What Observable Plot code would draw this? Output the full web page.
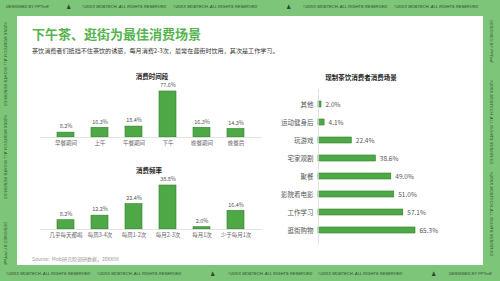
<!DOCTYPE html>
<html><head><meta charset="utf-8">
<script src="https://cdn.jsdelivr.net/npm/d3@7"></script>
<script src="https://cdn.jsdelivr.net/npm/@observablehq/plot@0.6"></script>
<style>
html,body{margin:0;padding:0;}
body{width:500px;height:281px;background:#7dc579;position:relative;overflow:hidden;font-family:"Noto Sans CJK SC","Noto Sans",sans-serif;}
.abs{position:absolute;white-space:nowrap;}
.panel{position:absolute;left:17px;top:16px;width:466px;height:249px;background:#fff;}
.band{position:absolute;font-family:"Liberation Sans",sans-serif;font-style:italic;font-size:4.1px;color:#2f4a2c;white-space:nowrap;}
.ctitle{position:absolute;font-weight:bold;font-size:6.5px;color:#222;transform:translateX(-50%);white-space:nowrap;}
</style></head>
<body>
<div class="panel"></div>
<div class="abs" style="left:32px;top:24px;font-size:13px;font-weight:bold;color:#55b34e;">下午茶、逛街为最佳消费场景</div>
<div class="abs" style="left:32px;top:46px;font-size:6.1px;color:#333;">茶饮消费者们抵挡不住茶饮的诱惑，每月消费2-3次，最常在逛街时饮用，其次是工作学习。</div>
<div class="abs" style="left:32px;top:255px;font-size:5px;color:#999;">Source:&nbsp;&nbsp;Mob研究院调研数据，20XX08</div>

<div class="band" style="left:6px;top:4px;">DESIGNED BY PPTer8</div>
<div class="band" style="left:66px;top:3px;font-style:normal;font-size:6px;">♟</div>
<div class="band" style="left:82px;top:4px;">©20XX MOBTECH. ALL RIGHTS RESERVED</div>
<div class="band" style="left:173px;top:4px;">©20XX MOBTECH. ALL RIGHTS RESERVED</div>
<div class="band" style="left:286px;top:3px;font-style:normal;font-size:6px;">♟</div>
<div class="band" style="left:303px;top:4px;">©20XX MOBTECH. ALL RIGHTS RESERVED</div>
<div class="band" style="left:394px;top:4px;">©20XX MOBTECH. ALL RIGHTS RESERVED</div>

<div class="band" style="left:6px;top:271px;">©20XX MOBTECH. ALL RIGHTS RESERVED</div>
<div class="band" style="left:97px;top:271px;">©20XX MOBTECH. ALL RIGHTS RESERVED</div>
<div class="band" style="left:210px;top:270px;font-style:normal;font-size:6px;">♟</div>
<div class="band" style="left:228px;top:271px;">©20XX MOBTECH. ALL RIGHTS RESERVED</div>
<div class="band" style="left:318px;top:271px;">©20XX MOBTECH. ALL RIGHTS RESERVED</div>
<div class="band" style="left:431px;top:270px;font-style:normal;font-size:6px;">♟</div>
<div class="band" style="left:449px;top:271px;">DESIGNED BY PPTer8</div>

<div class="band" style="left:8px;top:22px;transform-origin:0 0;transform:rotate(90deg);">©20XX MOBTECH. ALL RIGHTS RESERVED</div>
<div class="band" style="left:8px;top:115px;transform-origin:0 0;transform:rotate(90deg);">©20XX MOBTECH. ALL RIGHTS RESERVED</div>
<div class="band" style="left:8px;top:222px;transform-origin:0 0;transform:rotate(90deg);">DESIGNED BY PPTer8</div>
<div class="band" style="left:494px;top:20px;transform-origin:0 0;transform:rotate(90deg);">DESIGNED BY PPTer8</div>
<div class="band" style="left:494px;top:80px;transform-origin:0 0;transform:rotate(90deg);">©20XX MOBTECH. ALL RIGHTS RESERVED</div>
<div class="band" style="left:494px;top:172px;transform-origin:0 0;transform:rotate(90deg);">©20XX MOBTECH. ALL RIGHTS RESERVED</div>

<div id="c1" class="abs" style="left:20px;top:78px;"></div>
<div id="c2" class="abs" style="left:20px;top:172px;"></div>
<div id="c3" class="abs" style="left:262px;top:80px;"></div>
<div class="ctitle" style="left:152px;top:71px;">消费时间段</div>
<div class="ctitle" style="left:149px;top:165px;">消费频率</div>
<div class="ctitle" style="left:361px;top:72px;">现制茶饮消费者消费场景</div>

<script>
const timeCats = ["早餐期间","上午","午餐期间","下午","晚餐期间","晚餐后"];
const timeVals = [8.2,16.3,18.4,77.6,16.3,14.3];
const freqCats = ["几乎每天都喝","每周3-4次","每周1-2次","每月2-3次","每月1次","少于每月1次"];
const freqVals = [8.2,12.2,22.4,38.8,2.0,16.4];
const sceneCats = ["其他","运动健身后","玩游戏","宅家观剧","聚餐","影院看电影","工作学习","逛街购物"];
const sceneVals = [2.0,4.1,22.4,38.6,49.0,51.0,57.1,65.3];

const FILL = "#4ea845", STROKE = "#2f7f2a";
const fmt = v => v.toFixed(1) + "%";
const baseStyle = {background:"transparent", fontFamily:"Noto Sans CJK SC", fontSize:"5.5px", color:"#666", overflow:"visible"};

function colChart(cats, vals, height) {
  const data = cats.map((c,i)=>({c, v: vals[i]}));
  return Plot.plot({
    width:245, height, marginLeft:20, marginRight:3, marginTop:13, marginBottom:14,
    style: baseStyle,
    x:{domain:cats, padding:0.49, label:null, tickSize:0, tickPadding:4},
    y:{domain:[0, d3.max(vals)], axis:null},
    marks:[
      Plot.barY(data,{x:"c", y:"v", fill:FILL, stroke:STROKE, strokeWidth:0.6}),
      Plot.ruleY([0],{stroke:"#ddd", strokeWidth:0.8}),
      Plot.text(data,{x:"c", y:"v", text:d=>fmt(d.v), dy:-6, fontSize:5.5, fill:"#555"})
    ]
  });
}
document.getElementById("c1").append(colChart(timeCats, timeVals, 73));
document.getElementById("c2").append(colChart(freqCats, freqVals, 71));

const sdata = sceneCats.map((c,i)=>({c, v: sceneVals[i]}));
document.getElementById("c3").append(Plot.plot({
  width:183, height:165, marginLeft:56, marginRight:30, marginTop:9, marginBottom:0,
  style: {...baseStyle, fontSize:"6.5px", color:"#555"},
  y:{domain:sceneCats, padding:0.64, label:null, tickSize:0, tickPadding:5},
  x:{domain:[0, d3.max(sceneVals)], axis:null},
  marks:[
    Plot.barX(sdata,{y:"c", x:"v", fill:FILL, stroke:STROKE, strokeWidth:0.6}),
    Plot.ruleX([0],{stroke:"#ddd", strokeWidth:0.8}),
    Plot.text(sdata,{y:"c", x:"v", text:d=>fmt(d.v), dx:4, textAnchor:"start", fontSize:6.5, fill:"#555"})
  ]
}));
</script>
</body></html>
